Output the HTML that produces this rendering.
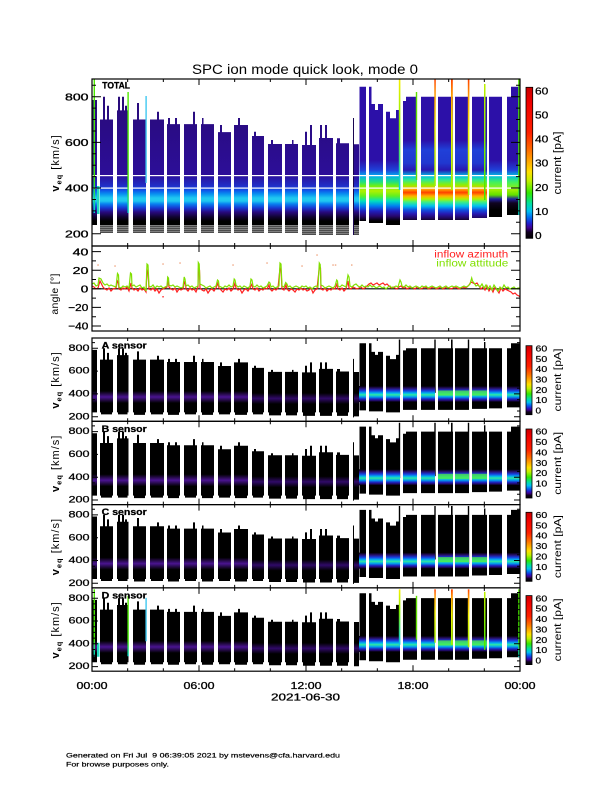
<!DOCTYPE html>
<html><head><meta charset="utf-8"><style>html,body{margin:0;padding:0;background:#fff}svg{display:block}text{font-family:"Liberation Sans",sans-serif}</style></head><body>
<svg width="612" height="792" viewBox="0 0 612 792" xmlns="http://www.w3.org/2000/svg" xmlns:xlink="http://www.w3.org/1999/xlink">
<defs>
<linearGradient id="gA" gradientUnits="userSpaceOnUse" x1="0" y1="0" x2="0" y2="250">
<stop offset="0.316" stop-color="#280a72"/><stop offset="0.70" stop-color="#2c0e98"/><stop offset="0.744" stop-color="#2030c8"/><stop offset="0.76" stop-color="#1050e8"/><stop offset="0.776" stop-color="#0890f0"/><stop offset="0.792" stop-color="#20c8f0"/><stop offset="0.804" stop-color="#20c8f0"/><stop offset="0.816" stop-color="#0880f0"/><stop offset="0.832" stop-color="#1838d0"/><stop offset="0.848" stop-color="#280a80"/><stop offset="0.868" stop-color="#100430"/><stop offset="0.884" stop-color="#000"/>
</linearGradient>
<linearGradient id="gB" gradientUnits="userSpaceOnUse" x1="0" y1="0" x2="0" y2="250">
<stop offset="0.316" stop-color="#2c10a8"/><stop offset="0.64" stop-color="#2c10a8"/><stop offset="0.68" stop-color="#2040d8"/><stop offset="0.704" stop-color="#00b0f0"/><stop offset="0.728" stop-color="#20e080"/><stop offset="0.744" stop-color="#70f010"/><stop offset="0.764" stop-color="#b0f000"/><stop offset="0.784" stop-color="#60f020"/><stop offset="0.804" stop-color="#00e0c0"/><stop offset="0.824" stop-color="#0080f0"/><stop offset="0.844" stop-color="#2020c0"/><stop offset="0.864" stop-color="#280870"/><stop offset="0.884" stop-color="#000"/>
</linearGradient>
<linearGradient id="gC" gradientUnits="userSpaceOnUse" x1="0" y1="0" x2="0" y2="250">
<stop offset="0.316" stop-color="#2c10a8"/><stop offset="0.56" stop-color="#2c10a8"/><stop offset="0.60" stop-color="#2040d8"/><stop offset="0.652" stop-color="#2038d0"/><stop offset="0.68" stop-color="#2818b0"/><stop offset="0.704" stop-color="#00c0e8"/><stop offset="0.72" stop-color="#30e890"/><stop offset="0.74" stop-color="#90f000"/><stop offset="0.756" stop-color="#ffb000"/><stop offset="0.77" stop-color="#ff4000"/><stop offset="0.784" stop-color="#ffb000"/><stop offset="0.796" stop-color="#b0f000"/><stop offset="0.808" stop-color="#40f080"/><stop offset="0.824" stop-color="#00c0f0"/><stop offset="0.84" stop-color="#1050e0"/><stop offset="0.856" stop-color="#2818b0"/><stop offset="0.872" stop-color="#200860"/><stop offset="0.888" stop-color="#000"/>
</linearGradient>
<linearGradient id="gD" gradientUnits="userSpaceOnUse" x1="0" y1="0" x2="0" y2="250">
<stop offset="0.316" stop-color="#2c10a8"/><stop offset="0.64" stop-color="#2c10a8"/><stop offset="0.68" stop-color="#2040d8"/><stop offset="0.704" stop-color="#00c0e0"/><stop offset="0.728" stop-color="#40f060"/><stop offset="0.76" stop-color="#a0f000"/><stop offset="0.78" stop-color="#60e000"/><stop offset="0.796" stop-color="#2020a0"/><stop offset="0.812" stop-color="#100420"/><stop offset="0.84" stop-color="#000"/>
</linearGradient>
<linearGradient id="cb" x1="0" y1="0" x2="0" y2="1">
<stop offset="0" stop-color="#c80000"/><stop offset="0.1" stop-color="#f00000"/><stop offset="0.3" stop-color="#ff2000"/><stop offset="0.42" stop-color="#ff7000"/><stop offset="0.5" stop-color="#ffb000"/><stop offset="0.56" stop-color="#ffe000"/><stop offset="0.62" stop-color="#c0f000"/><stop offset="0.7" stop-color="#30e800"/><stop offset="0.77" stop-color="#00e0a0"/><stop offset="0.82" stop-color="#00c0f0"/><stop offset="0.86" stop-color="#0070f0"/><stop offset="0.9" stop-color="#2020d0"/><stop offset="0.93" stop-color="#400090"/><stop offset="0.96" stop-color="#100020"/><stop offset="1" stop-color="#000"/>
</linearGradient>
<linearGradient id="bp" x1="0" y1="0" x2="0" y2="1"><stop offset="0" stop-color="#000"/><stop offset="0.5" stop-color="#4a1490"/><stop offset="1" stop-color="#000"/></linearGradient>
<linearGradient id="bp2" x1="0" y1="0" x2="0" y2="1"><stop offset="0" stop-color="#000"/><stop offset="0.5" stop-color="#300a68"/><stop offset="1" stop-color="#000"/></linearGradient>
<linearGradient id="bs" x1="0" y1="0" x2="0" y2="1"><stop offset="0" stop-color="#000"/><stop offset="0.15" stop-color="#281070"/><stop offset="0.3" stop-color="#1840e0"/><stop offset="0.45" stop-color="#00b8f0"/><stop offset="0.55" stop-color="#30e8a0"/><stop offset="0.68" stop-color="#00a0f0"/><stop offset="0.82" stop-color="#2020c0"/><stop offset="0.92" stop-color="#200860"/><stop offset="1" stop-color="#000"/></linearGradient>
<linearGradient id="lY" x1="0" y1="0" x2="0" y2="1"><stop offset="0" stop-color="#f8f000"/><stop offset="0.4" stop-color="#80f000"/><stop offset="1" stop-color="#00c8f0"/></linearGradient>
<linearGradient id="lO" x1="0" y1="0" x2="0" y2="1"><stop offset="0" stop-color="#ff4000"/><stop offset="0.15" stop-color="#ffa000"/><stop offset="0.45" stop-color="#f0f000"/><stop offset="1" stop-color="#a0f000"/></linearGradient>
<linearGradient id="lG" x1="0" y1="0" x2="0" y2="1"><stop offset="0" stop-color="#50e800"/><stop offset="0.75" stop-color="#40e800"/><stop offset="1" stop-color="#00d0d0"/></linearGradient>
<linearGradient id="lGY" x1="0" y1="0" x2="0" y2="1"><stop offset="0" stop-color="#c0f000"/><stop offset="1" stop-color="#40e800"/></linearGradient>
<pattern id="pst" patternUnits="userSpaceOnUse" x="0" y="225.5" width="8" height="2"><rect width="8" height="1.2" fill="#000"/></pattern>
<clipPath id="cx" clipPathUnits="userSpaceOnUse"><path d="M92 0h5v792h-5z M100 0h13v792h-13z M117 0h11.5v792h-11.5z M133 0h13v792h-13z M150 0h14v792h-14z M167 0h13v792h-13z M184 0h13v792h-13z M201 0h13v792h-13z M218 0h13v792h-13z M234 0h14v792h-14z M252 0h12v792h-12z M268 0h14v792h-14z M285 0h13v792h-13z M302 0h14v792h-14z M319 0h14v792h-14z M336 0h13v792h-13z M354 0h12v792h-12z M369 0h14v792h-14z M386 0h14v792h-14z M403 0h14v792h-14z M421 0h14v792h-14z M438 0h15v792h-15z M455 0h14v792h-14z M472 0h15v792h-15z M489 0h13v792h-13z M507 0h13v792h-13z"/></clipPath>
<path id="sgA" d="M92 225V100H97V225Z M100 225V119.5H103V96.7H105V119.5H107V105.8H109V119.5H113V225Z M117 225V110.4H118V96.7H120V110.4H122V96.7H124V110.4H125V105.8H127V110.4H128.5V225Z M133 225V119.5H137V103H139V119.5H146V225Z M150 225V119.5H157V111.7H159V119.5H164V225Z M167 225V124.1H168V118H170V124.1H175V118H177V124.1H180V225Z M184 225V124.1H193V111.7H195V124.1H197V225Z M201 225V124.1H202V118H203.5V124.1H214V225Z M218 225V132.1H220V125H222V132.1H231V225Z M234 225V125H238V118H240V125H248V225Z M252 225V136H254V131.7H256V136H264V225Z M268 225V144H271V140H273V144H282V225Z M285 225V144H292V140H293.5V144H298V225Z M302 225V145H305V131.7H307V145H310V125H312V145H316V225Z M319 225V138H320V125H322V138H325V125H327V138H333V225Z M336 225V143.3H337V138.3H340V143.3H349V225Z M354 225V144.3H359V225Z"/>
<path id="sgB" d="M359.5 221V86.7H366V221Z M369 223V86.7H371.5V104H375V110H378V104H383V223Z M386 225V111.7H390V118.3H396V110H400V225Z"/>
<path id="sgC" d="M403 220V101H406V96.7H417V220Z M421 220V96.7H435V220Z M438 220V96.7H453V220Z M455 220V96.7H469V220Z M472 218V96.7H487V218Z"/>
<path id="sgD" d="M489 217V96.7H502V217Z M507 215V96.7H511V86.7H520V215Z"/>
<path id="st" fill="url(#pst)" d="M100 225.5H113V233H100Z M117 225.5H128.5V233H117Z M133 225.5H146V233H133Z M150 225.5H164V233H150Z M167 225.5H180V233H167Z M184 225.5H197V233H184Z M201 225.5H214V233H201Z M218 225.5H231V233H218Z M234 225.5H248V233H234Z M252 225.5H264V233H252Z M268 225.5H282V233H268Z M285 225.5H298V233H285Z M302 225.5H316V235H302Z M319 225.5H333V235H319Z M336 225.5H349V235H336Z M354 225.5H359V235H354Z"/>
<path id="stS" d="M101 224H112V229H101Z M118 224H127.5V229H118Z M134 224H145V230H134Z M151 224H163V229H151Z M168 224H179V230H168Z M185 224H196V229H185Z M202 224H213V230H202Z M219 224H230V229H219Z M235 224H247V230H235Z M253 224H263V229H253Z M269 224H281V231H269Z M286 224H297V231H286Z M303 224H315V232H303Z M320 224H332V232H320Z M337 224H348V232H337Z M354 224H359V233H354Z"/>
<path id="lnB" d="M353 118h1v117h-1z M398.8 79h1.4v111h-1.4z M434.3 79h1.4v107h-1.4z M451 79h1.6v111h-1.6z M467.8 79h1.4v116h-1.4z M484 84h1.4v116h-1.4z"/>
<g id="cl">
<rect x="93.6" y="79" width="1.4" height="134" fill="url(#lG)"/>
<rect x="97" y="186" width="2.5" height="28" fill="#20d8c0"/>
<rect x="127.4" y="92" width="1.4" height="121" fill="url(#lG)"/>
<rect x="145.4" y="96" width="1.4" height="87" fill="#40c8f0"/>
<rect x="398.8" y="79" width="1.6" height="111" fill="url(#lY)"/>
<rect x="415.8" y="92" width="1.4" height="88" fill="#60e000"/>
<rect x="434.3" y="79" width="1.5" height="107" fill="url(#lO)"/>
<rect x="451" y="79" width="1.8" height="111" fill="url(#lO)"/>
<rect x="467.8" y="79" width="1.6" height="116" fill="url(#lO)"/>
<rect x="484" y="84" width="1.5" height="116" fill="url(#lGY)"/>
<rect x="518.2" y="79" width="1.6" height="136" fill="url(#lG)"/>
</g>
<g id="bands" clip-path="url(#cx)">
<rect x="92" y="391" width="160" height="12" fill="url(#bp)"/>
<rect x="252" y="393" width="107" height="11" fill="url(#bp2)"/>
<rect x="359" y="386" width="161" height="16" fill="url(#bs)"/>
<rect x="436" y="390.5" width="52" height="5" fill="#50f040" opacity="0.75"/>
</g>
<path id="xt" d="M127.67 0v3M163.33 0v3M199 0v6M234.67 0v3M270.33 0v3M306 0v6M341.67 0v3M377.33 0v3M413 0v6M448.67 0v3M484.33 0v3" stroke="#000" stroke-width="1" fill="none"/>
<path id="yts" stroke="#000" stroke-width="1" fill="none" d="M92 416.7h6M92 411h3M92 405.3h3M92 399.6h3M92 393.9h6M92 388.2h3M92 382.5h3M92 376.8h3M92 371.1h6M92 365.4h3M92 359.7h3M92 354h3M92 348.3h6M92 342.6h3 M520 416.7h-6M520 411h-3M520 405.3h-3M520 399.6h-3M520 393.9h-6M520 388.2h-3M520 382.5h-3M520 376.8h-3M520 371.1h-6M520 365.4h-3M520 359.7h-3M520 354h-3M520 348.3h-6M520 342.6h-3"/>
<g id="sl" font-size="9" text-anchor="end" stroke="#000" stroke-width="0.25">
<text x="89.5" y="350.9" textLength="21" lengthAdjust="spacingAndGlyphs">800</text>
<text x="89.5" y="373.7" textLength="21" lengthAdjust="spacingAndGlyphs">600</text>
<text x="89.5" y="396.5" textLength="21" lengthAdjust="spacingAndGlyphs">400</text>
<text x="89.5" y="419.3" textLength="21" lengthAdjust="spacingAndGlyphs">200</text>
</g>
<g id="scb">
<rect x="526" y="345.7" width="6" height="69" fill="url(#cb)" stroke="#000" stroke-width="0.8"/>
<g font-size="8.5" stroke="#000" stroke-width="0.2">
<text x="535.5" y="351.4" textLength="11.7" lengthAdjust="spacingAndGlyphs">60</text>
<text x="535.5" y="361.8" textLength="11.7" lengthAdjust="spacingAndGlyphs">50</text>
<text x="535.5" y="372.1" textLength="11.7" lengthAdjust="spacingAndGlyphs">40</text>
<text x="535.5" y="382.5" textLength="11.7" lengthAdjust="spacingAndGlyphs">30</text>
<text x="535.5" y="392.9" textLength="11.7" lengthAdjust="spacingAndGlyphs">20</text>
<text x="535.5" y="403.2" textLength="11.7" lengthAdjust="spacingAndGlyphs">10</text>
<text x="535.5" y="413.6" textLength="5.6" lengthAdjust="spacingAndGlyphs">0</text>
</g>
<text transform="translate(561,380) rotate(-90)" text-anchor="middle" font-size="10" textLength="63" lengthAdjust="spacingAndGlyphs">current [pA]</text>
<text transform="translate(59,380) rotate(-90)" text-anchor="middle" font-size="11" letter-spacing="1"><tspan font-weight="bold">v</tspan><tspan font-weight="bold" font-size="7.5" dy="2.5">eq</tspan><tspan dy="-2.5"> [km/s]</tspan></text>
</g>
</defs>

<!-- Title -->
<text x="305" y="74" font-size="13.5" text-anchor="middle" textLength="226" lengthAdjust="spacingAndGlyphs">SPC ion mode quick look, mode 0</text>

<!-- TOP PANEL -->
<use href="#sgA" fill="url(#gA)"/>
<use href="#sgB" fill="url(#gB)"/>
<use href="#sgC" fill="url(#gC)"/>
<use href="#sgD" fill="url(#gD)"/>
<use href="#st"/>
<rect x="353" y="118" width="1" height="117" fill="#1a0650"/>
<rect x="92" y="175" width="428" height="1.2" fill="#fff"/>
<rect x="92" y="187.5" width="428" height="1.2" fill="#fff"/>
<use href="#cl"/>
<text x="102.3" y="88.5" font-size="9.5" font-weight="bold" stroke="#000" stroke-width="0.3" textLength="27.7" lengthAdjust="spacingAndGlyphs">TOTAL</text>
<rect x="92" y="79" width="428" height="167" fill="none" stroke="#000" stroke-width="1.2"/>
<use href="#xt" transform="translate(0,79)"/>
<use href="#xt" transform="translate(0,246) scale(1,-1)"/>
<path stroke="#000" stroke-width="1" fill="none" d="M92 233.7h9M92 222.3h4M92 210.9h4M92 199.5h4M92 188h9M92 176.6h4M92 165.2h4M92 153.8h4M92 142.4h9M92 131h4M92 119.5h4M92 108.1h4M92 96.7h9M92 85.3h4 M520 233.7h-9M520 222.3h-4M520 210.9h-4M520 199.5h-4M520 188h-9M520 176.6h-4M520 165.2h-4M520 153.8h-4M520 142.4h-9M520 131h-4M520 119.5h-4M520 108.1h-4M520 96.7h-9M520 85.3h-4"/>
<g font-size="10" text-anchor="end" stroke="#000" stroke-width="0.3">
<text x="88.5" y="100.4" textLength="23.5" lengthAdjust="spacingAndGlyphs">800</text>
<text x="88.5" y="146.1" textLength="23.5" lengthAdjust="spacingAndGlyphs">600</text>
<text x="88.5" y="191.7" textLength="23.5" lengthAdjust="spacingAndGlyphs">400</text>
<text x="88.5" y="237.4" textLength="23.5" lengthAdjust="spacingAndGlyphs">200</text>
</g>
<text transform="translate(59,163) rotate(-90)" text-anchor="middle" font-size="11" letter-spacing="1"><tspan font-weight="bold">v</tspan><tspan font-weight="bold" font-size="7.5" dy="2.5">eq</tspan><tspan dy="-2.5"> [km/s]</tspan></text>
<!-- top colorbar -->
<rect x="526" y="87.3" width="6.7" height="151" fill="url(#cb)" stroke="#000" stroke-width="0.8"/>
<g font-size="10.5" stroke="#000" stroke-width="0.25">
<text x="535" y="94.4" textLength="13.3" lengthAdjust="spacingAndGlyphs">60</text>
<text x="535" y="118.5" textLength="13.3" lengthAdjust="spacingAndGlyphs">50</text>
<text x="535" y="142.6" textLength="13.3" lengthAdjust="spacingAndGlyphs">40</text>
<text x="535" y="166.7" textLength="13.3" lengthAdjust="spacingAndGlyphs">30</text>
<text x="535" y="190.8" textLength="13.3" lengthAdjust="spacingAndGlyphs">20</text>
<text x="535" y="214.9" textLength="13.3" lengthAdjust="spacingAndGlyphs">10</text>
<text x="535" y="239" textLength="6.6" lengthAdjust="spacingAndGlyphs">0</text>
</g>
<text transform="translate(561,163) rotate(-90)" text-anchor="middle" font-size="11" textLength="63" lengthAdjust="spacingAndGlyphs">current [pA]</text>

<!-- ANGLE PANEL -->
<line x1="92" y1="288.8" x2="520" y2="288.8" stroke="#000" stroke-width="1.2"/>
<polyline fill="none" stroke="#ff2020" stroke-width="1.2" points="92,286 94,287 96,289 98,288 100,281 101,283 103,287 105,289 107,290 109,288 111,291 113,289 116,288 117.5,281 118.5,283 119,289 121,290 123,288 125,289 127,287 129,291 131,283 132,288 134,290 136,289 138,291 140,288 142,290 144,289 146,292 147,270 148,272 149,289 151,290 153,288 155,291 157,289 159,293 161,290 163,289 165,288 167,287 168,280 169,287 171,289 173,290 175,288 177,292 179,289 181,290 183,289 184.5,282 185.5,284 186,289 188,291 190,288 192,290 194,289 196,292 198,287 198.5,268 199.5,270 200,288 202,290 204,291 206,289 208,293 210,290 212,289 214,291 216,288 218,283 219,288 221,290 223,292 225,289 227,290 229,288 231,291 233,289 235,283 236,288 238,290 240,289 242,293 244,290 246,289 248,291 250,288 252,284 253,289 255,290 257,288 259,291 261,289 263,290 265,288 267,289 269,285 270,289 272,291 274,289 276,290 278,288 280,268 281,270 282,289 284,290 286,285 287,289 289,291 291,289 293,290 295,292 297,289 299,290 301,288 303,290 305,289 307,291 309,290 311,288 313,293 315,290 317,289 319.5,266 320.5,268 321,289 323,290 325,288 327,291 329,289 331,290 333,288 335,289 337,284 338,289 340,290 342,288 344,291 346,289 348,281 349,288 351,289 353,287 355,288 357,289 359,288 361,287 363,289 365,288 367,286 369,284 371,283 373,285 375,284 377,283 379,285 381,284 383,283 385,285 387,284 389,286 391,288 393,287 395,288 397,289 399,287 401,286 403,288 405,287 407,289 409,288 411,287 413,288 415,289 417,287 419,288 421,289 423,288 425,287 427,288 429,289 431,288 433,287 435,288 437,289 439,288 441,287 443,289 445,288 447,287 449,288 451,289 453,288 455,287 457,288 459,289 461,288 463,287 465,288 467,287 469,285 471,282 473,283 475,284 477,283 479,286 481,289 483,287 485,290 487,286 489,291 491,288 493,292 495,287 497,290 499,293 501,288 503,291 505,289 507,290 509,291 511,292 513,294 515,293 517,295 519,296 520,297"/>
<polyline fill="none" stroke="#80e000" stroke-width="1.2" points="92,284 94,283 96,286 98,285 99,278 101,279 103,283 105,285 107,284 109,286 111,285 113,286 116,287 117.5,273.5 118.5,275 119,287 121,288 123,286 125,287 127,286 129,288 130.5,273 131.5,274 132,286 134,285 136,287 138,286 140,285 142,288 144,287 146,291 147,264 148,265 149,286 151,287 153,285 155,288 157,286 159,287 161,286 163,288 165,287 167,286 167.7,277 168.5,278 169,285 171,286 173,285 175,287 177,286 179,287 181,288 183,287 184.2,277 185,279 186,286 188,285 190,287 192,286 194,288 196,287 198,286 198.3,262.5 199.2,264 200,284 202,285 204,286 206,288 208,287 210,286 212,288 214,287 216,286 217.5,280 218.5,281 219,286 221,287 223,288 225,286 227,287 229,285 231,287 233,286 234.2,279 235,280 236,285 238,287 240,286 242,288 244,286 246,287 248,288 250,286 251,279 252,280 253,286 255,287 257,285 259,287 261,286 263,288 265,287 267,286 269,282 270,283 271,287 273,286 275,288 277,287 279,286 280,263 281,264 282,286 284,287 285.7,282.5 287,284 288,287 290,286 292,288 294,287 296,286 298,287 300,288 302,286 304,287 306,286 308,288 310,287 312,289 314,287 316,286 318,287 319.3,263 320.2,264.5 321,285 323,286 325,288 327,287 329,286 331,287 333,288 335,286 336.7,280 337.5,281 338,286 340,287 342,285 344,286 346,287 348,275 349,277 350,286 352,287 354,285 356,284 358,286 360,287 362,285 364,287 366,286 368,287 370,285 372,287 374,286 376,288 378,287 380,286 382,288 384,287 386,289 388,287 390,286 392,288 394,287 396,286 398,287 400,280 401,282 402,286 404,287 406,285 408,287 410,286 412,288 414,287 416,286 418,287 420,288 422,286 424,287 426,286 428,288 430,287 432,286 434,287 436,288 438,287 440,286 442,288 444,287 446,286 448,288 450,287 452,286 454,287 456,286 458,287 460,288 462,287 464,286 466,287 468,286 470,284 471.7,278 472.5,281 474,283 476,286 478,285 480,287 482,284 484,288 486,285 488,289 490,286 492,290 494,285 496,288 498,291 500,287 502,289 504,285 506,288 508,287 510,289 512,288 514,287 516,289 518,288 520,288"/>
<g fill="#f0b090">
<rect x="97.3" y="264.3" width="1.5" height="1.5"/><rect x="114.3" y="265.3" width="1.5" height="1.5"/><rect x="162.3" y="263.3" width="1.5" height="1.5"/><rect x="179.3" y="262.3" width="1.5" height="1.5"/><rect x="232.3" y="264.3" width="1.5" height="1.5"/><rect x="266.3" y="262.3" width="1.5" height="1.5"/><rect x="301.3" y="265.3" width="1.5" height="1.5"/><rect x="316.3" y="254.3" width="1.5" height="1.5"/><rect x="332.3" y="264.3" width="1.5" height="1.5"/><rect x="334.8" y="264.3" width="1.5" height="1.5"/><rect x="351" y="264.3" width="1.5" height="1.5"/>
</g>
<rect x="162.3" y="296" width="1.5" height="1.5" fill="#ff4040"/>
<text x="508.3" y="257.3" font-size="10" fill="#ff2020" text-anchor="end" textLength="74" lengthAdjust="spacingAndGlyphs">inflow azimuth</text>
<text x="508.3" y="266.7" font-size="10" fill="#80e000" text-anchor="end" textLength="72" lengthAdjust="spacingAndGlyphs">inflow attitude</text>
<rect x="92" y="246" width="428" height="85" fill="none" stroke="#000" stroke-width="1.2"/>
<use href="#xt" transform="translate(0,246)"/>
<use href="#xt" transform="translate(0,331) scale(1,-1)"/>
<path stroke="#000" stroke-width="1" fill="none" d="M92 251.6h9M92 260.9h4M92 270.2h9M92 279.5h4M92 288.8h9M92 298.1h4M92 307.4h9M92 316.7h4M92 326h9 M520 251.6h-9M520 260.9h-4M520 270.2h-9M520 279.5h-4M520 288.8h-9M520 298.1h-4M520 307.4h-9M520 316.7h-4M520 326h-9"/>
<g font-size="10" text-anchor="end" stroke="#000" stroke-width="0.3">
<text x="88.3" y="255.4" textLength="15.7" lengthAdjust="spacingAndGlyphs">40</text>
<text x="88.3" y="274" textLength="15.7" lengthAdjust="spacingAndGlyphs">20</text>
<text x="88.3" y="292.5" textLength="7.5" lengthAdjust="spacingAndGlyphs">0</text>
<text x="88.3" y="311.1" textLength="20" lengthAdjust="spacingAndGlyphs">−20</text>
<text x="88.3" y="329.7" textLength="20" lengthAdjust="spacingAndGlyphs">−40</text>
</g>
<text transform="translate(58,294) rotate(-90)" text-anchor="middle" font-size="10.5" letter-spacing="0.3">angle [°]</text>

<!-- SENSOR PANELS -->
<g transform="matrix(1 0 0 0.4993 0 300)"><use href="#sgA"/><use href="#sgB"/><use href="#sgC"/><use href="#sgD"/><use href="#stS"/><use href="#lnB"/></g>
<g transform="matrix(1 0 0 0.4993 0 383.3)"><use href="#sgA"/><use href="#sgB"/><use href="#sgC"/><use href="#sgD"/><use href="#stS"/><use href="#lnB"/></g>
<g transform="matrix(1 0 0 0.4993 0 466.6)"><use href="#sgA"/><use href="#sgB"/><use href="#sgC"/><use href="#sgD"/><use href="#stS"/><use href="#lnB"/></g>
<g transform="matrix(1 0 0 0.4993 0 549.9)"><use href="#sgA"/><use href="#sgB"/><use href="#sgC"/><use href="#sgD"/><use href="#stS"/></g>
<use href="#bands"/>
<use href="#bands" transform="translate(0,83.3)"/>
<use href="#bands" transform="translate(0,166.6)"/>
<use href="#bands" transform="translate(0,249.9)"/>
<use href="#cl" transform="matrix(1 0 0 0.4993 0 549.9)"/>

<g font-size="9.5" font-weight="bold" stroke="#000" stroke-width="0.3">
<text x="101.7" y="348.5" textLength="45" lengthAdjust="spacingAndGlyphs">A sensor</text>
<text x="101.7" y="431.8" textLength="45" lengthAdjust="spacingAndGlyphs">B sensor</text>
<text x="101.7" y="515.1" textLength="45" lengthAdjust="spacingAndGlyphs">C sensor</text>
<text x="101.7" y="598.4" textLength="45" lengthAdjust="spacingAndGlyphs">D sensor</text>
</g>

<g fill="none" stroke="#000" stroke-width="1.2">
<rect x="92" y="338" width="428" height="83.3"/>
<rect x="92" y="421.3" width="428" height="83.3"/>
<rect x="92" y="504.6" width="428" height="83.3"/>
<rect x="92" y="587.9" width="428" height="83.3"/>
</g>
<use href="#xt" transform="translate(0,338)"/>
<use href="#xt" transform="translate(0,421.3) scale(1,-1)"/>
<use href="#xt" transform="translate(0,421.3)"/>
<use href="#xt" transform="translate(0,504.6) scale(1,-1)"/>
<use href="#xt" transform="translate(0,504.6)"/>
<use href="#xt" transform="translate(0,587.9) scale(1,-1)"/>
<use href="#xt" transform="translate(0,587.9)"/>
<use href="#xt" transform="translate(0,671.2) scale(1,-1)"/>
<use href="#yts"/>
<use href="#yts" transform="translate(0,83.3)"/>
<use href="#yts" transform="translate(0,166.6)"/>
<use href="#yts" transform="translate(0,249.9)"/>
<use href="#sl"/>
<use href="#sl" transform="translate(0,83.3)"/>
<use href="#sl" transform="translate(0,166.6)"/>
<use href="#sl" transform="translate(0,249.9)"/>
<use href="#scb"/>
<use href="#scb" transform="translate(0,83.3)"/>
<use href="#scb" transform="translate(0,166.6)"/>
<use href="#scb" transform="translate(0,249.9)"/>

<!-- X axis labels -->
<g font-size="10.5" text-anchor="middle" stroke="#000" stroke-width="0.3">
<text x="92" y="689" textLength="31" lengthAdjust="spacingAndGlyphs">00:00</text>
<text x="199" y="689" textLength="31" lengthAdjust="spacingAndGlyphs">06:00</text>
<text x="306" y="689" textLength="31" lengthAdjust="spacingAndGlyphs">12:00</text>
<text x="413" y="689" textLength="31" lengthAdjust="spacingAndGlyphs">18:00</text>
<text x="520" y="689" textLength="31" lengthAdjust="spacingAndGlyphs">00:00</text>
<text x="305.5" y="700.7" textLength="69" lengthAdjust="spacingAndGlyphs">2021-06-30</text>
</g>

<!-- Footer -->
<g font-size="6.6" stroke="#000" stroke-width="0.2">
<text x="66" y="757.3" textLength="274" lengthAdjust="spacingAndGlyphs">Generated on Fri Jul&#160; 9 06:39:05 2021 by mstevens@cfa.harvard.edu</text>
<text x="66" y="766.7" textLength="103" lengthAdjust="spacingAndGlyphs">For browse purposes only.</text>
</g>
</svg>
</body></html>
